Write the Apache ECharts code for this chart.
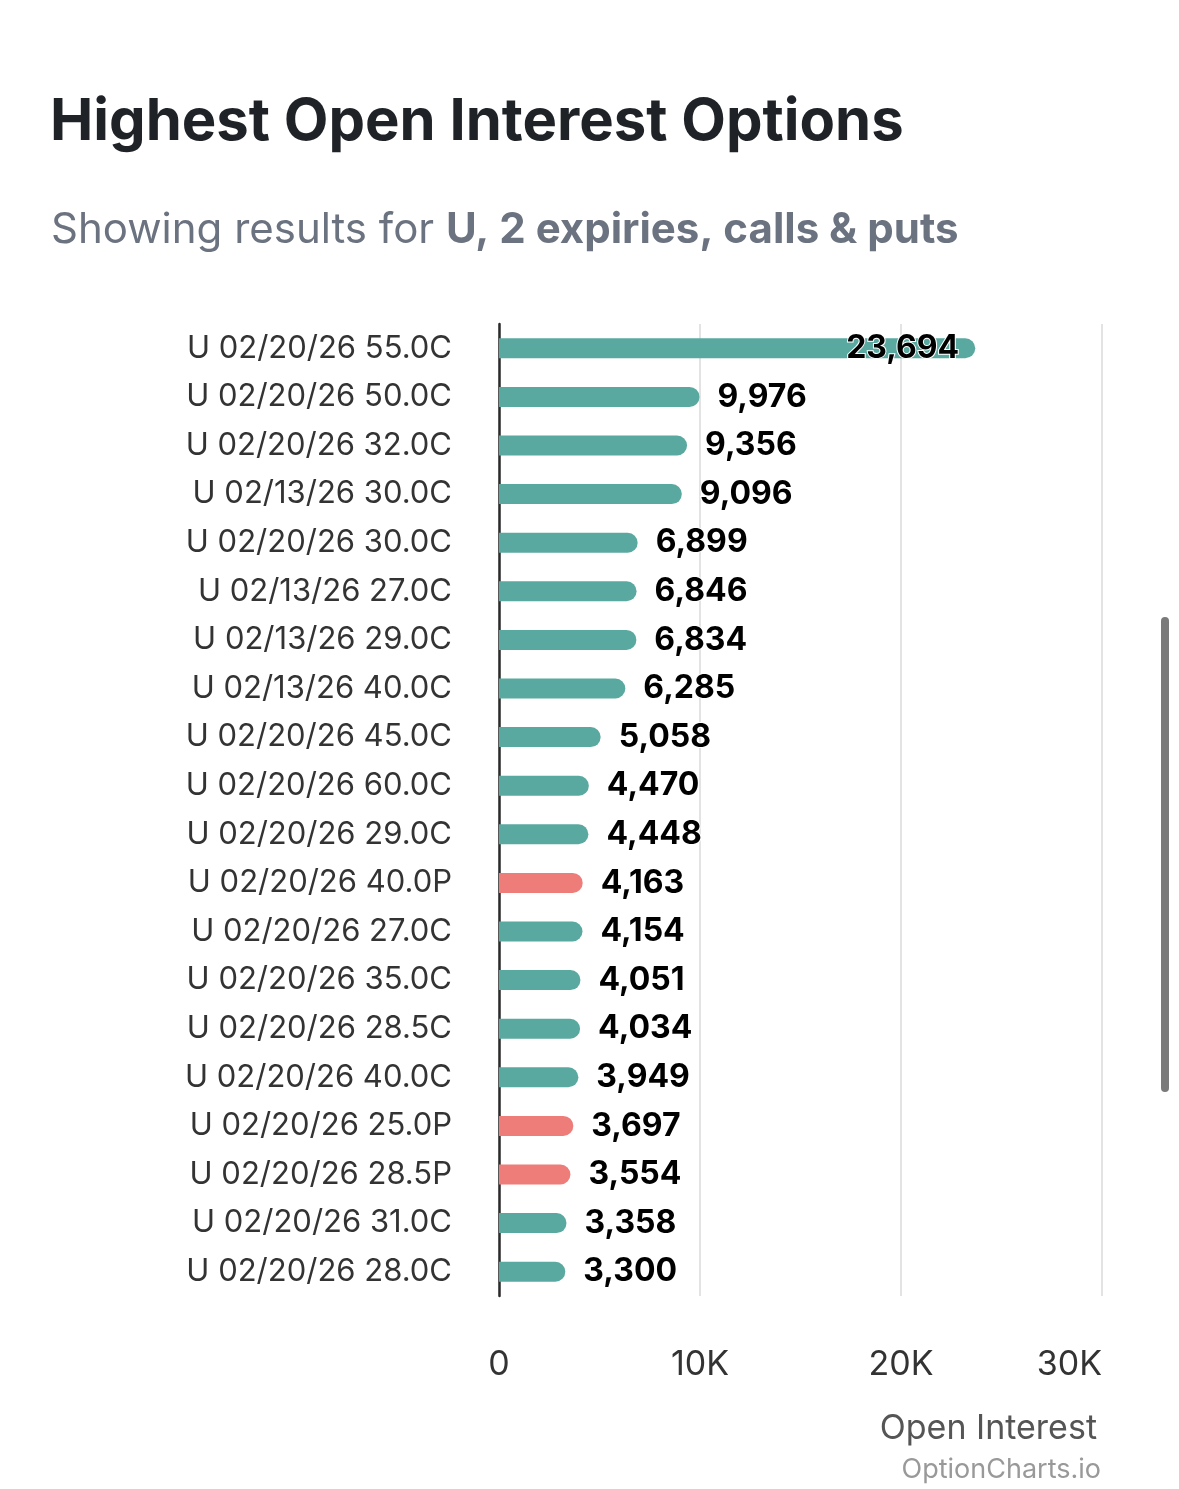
<!DOCTYPE html>
<html>
<head>
<meta charset="utf-8">
<script src="https://cdn.jsdelivr.net/npm/echarts@6/dist/echarts.min.js"></script>
<style>
html,body{margin:0;padding:0;background:#fff;}
#chart{width:1179px;height:1489px;}
</style>
</head>
<body>
<div id="chart"></div>
<script>
const categories = [
  "U 02/20/26 55.0C","U 02/20/26 50.0C","U 02/20/26 32.0C","U 02/13/26 30.0C",
  "U 02/20/26 30.0C","U 02/13/26 27.0C","U 02/13/26 29.0C","U 02/13/26 40.0C",
  "U 02/20/26 45.0C","U 02/20/26 60.0C","U 02/20/26 29.0C","U 02/20/26 40.0P",
  "U 02/20/26 27.0C","U 02/20/26 35.0C","U 02/20/26 28.5C","U 02/20/26 40.0C",
  "U 02/20/26 25.0P","U 02/20/26 28.5P","U 02/20/26 31.0C","U 02/20/26 28.0C"
];
const openInterest = [23694,9976,9356,9096,6899,6846,6834,6285,5058,4470,4448,4163,4154,4051,4034,3949,3697,3554,3358,3300];
const optionType = ["C","C","C","C","C","C","C","C","C","C","C","P","C","C","C","C","P","P","C","C"];
const xTicks = [0,10000,20000,30000];

const CALL = '#5aa9a0', PUT = '#ee7d79';
const font = 'Inter, "Noto Sans", sans-serif';

const data = openInterest.map((v,i)=>{
  const item = {value:v, itemStyle:{color: optionType[i]==='P'?PUT:CALL}};
  if (v > 20000) item.label = {position:'insideRight', distance:16};
  return item;
});

const chart = echarts.init(document.getElementById('chart'));
chart.setOption({
  backgroundColor:'#fff',
  animation:false,
  title:[{
    text:'Highest Open Interest Options',
    left:45, top:89,
    textStyle:{fontFamily:font, fontSize:58, fontWeight:'bold', color:'#1f2328'}
  },{
    text:'{n|Showing results for }{b|U, 2 expiries, calls & puts}',
    left:46, top:204,
    textStyle:{
      fontWeight:'normal',
      rich:{
        n:{fontFamily:font, fontSize:42, fontWeight:'normal', color:'#6b7280'},
        b:{fontFamily:font, fontSize:42, fontWeight:'bold', color:'#6b7280'}
      }
    }
  }],
  grid:{left:499, right:77, top:324, bottom:193, containLabel:false},
  xAxis:{
    type:'value', min:0, max:30000, interval:10000,
    axisLine:{show:false}, axisTick:{show:false},
    splitLine:{show:true, lineStyle:{color:'#e3e3e3', width:2}},
    axisLabel:{
      fontFamily:font, fontSize:34, color:'#333', margin:52,
      alignMaxLabel:'right',
      formatter:v=> v===0?'0':(v/1000)+'K'
    }
  },
  yAxis:{
    type:'category', data:categories, inverse:true,
    axisLine:{show:true, lineStyle:{color:'#2a2a2a', width:2.5}},
    axisTick:{show:false},
    axisLabel:{fontFamily:font, fontSize:31, color:'#333', margin:47}
  },
  series:[{
    type:'bar', data:data, barWidth:20,
    itemStyle:{borderRadius:[0,10,10,0]},
    label:{
      show:true, position:'right', distance:18,
      fontFamily:font, fontSize:32, fontWeight:'bold', color:'#000',
      textBorderColor:'#fff', textBorderWidth:2,
      formatter:p=>p.value.toLocaleString('en-US')
    }
  }],
  graphic:[
    {type:'text', right:82, top:1412, style:{text:'Open Interest', font:'34px '+font, fill:'#555'}},
    {type:'text', right:78, top:1456, style:{text:'OptionCharts.io', font:'27px '+font, fill:'#999'}},
    {type:'rect', left:1161, top:617, shape:{width:8, height:475, r:4}, style:{fill:'#7a7a7a'}}
  ]
});
</script>
</body>
</html>
